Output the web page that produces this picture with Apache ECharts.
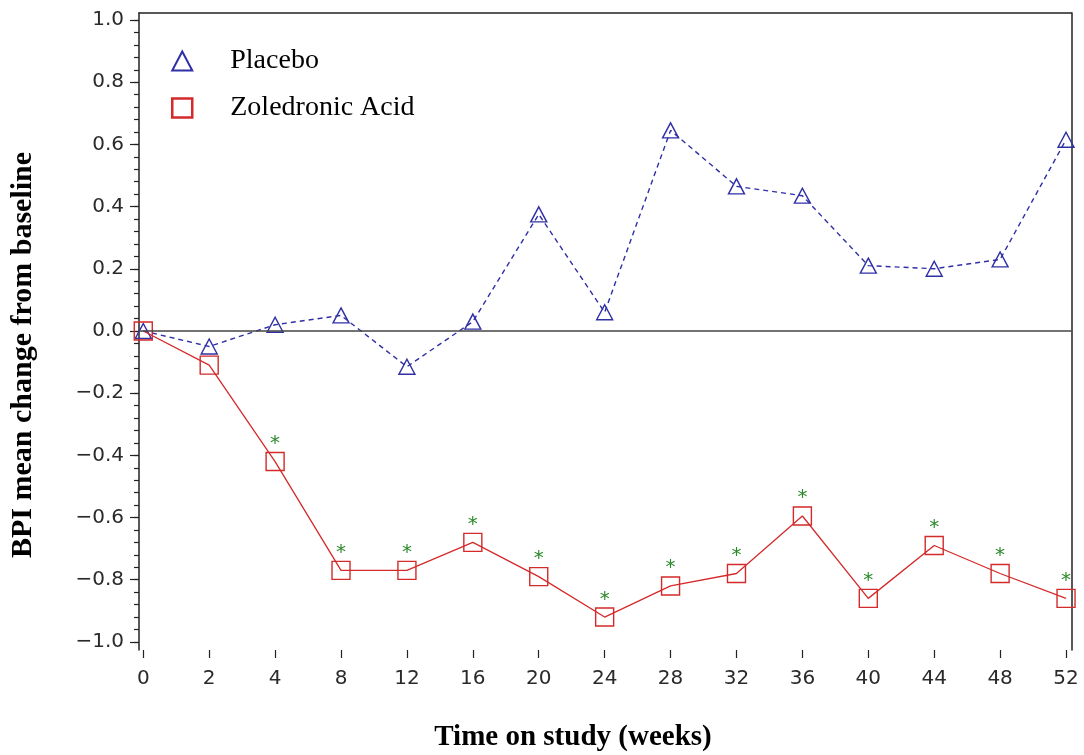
<!DOCTYPE html>
<html>
<head>
<meta charset="utf-8">
<script src="https://cdn.jsdelivr.net/npm/echarts@6/dist/echarts.min.js"></script>
<style>html,body{margin:0;padding:0;background:#fff}#c{width:1084px;height:755px}</style>
</head>
<body>
<div id="c"></div>
<script>
// Data
var weeks = ['0','2','4','8','12','16','20','24','28','32','36','40','44','48','52'];
var placebo = [0.0, -0.05, 0.02, 0.05, -0.115, 0.03, 0.375, 0.06, 0.645, 0.465, 0.435, 0.21, 0.20, 0.23, 0.615];
var zoledronic = [0.0, -0.11, -0.42, -0.77, -0.77, -0.68, -0.79, -0.92, -0.82, -0.78, -0.595, -0.86, -0.69, -0.78, -0.86];
var significant = [false, false, true, true, true, true, true, true, true, true, true, true, true, true, true];
var yTickLabels = [-1.0, -0.8, -0.6, -0.4, -0.2, 0.0, 0.2, 0.4, 0.6, 0.8, 1.0];

var yMinor = [];
for (var k = -25; k <= 25; k++) { yMinor.push(Math.round(k * 4) / 100); }
var xIdx = weeks.map(function (w, i) { return i; });

var blue = '#2f2fa6';
var red = '#d42a2a';
var green = '#2a8a2a';
var labelFont = { fontFamily: 'DejaVu Sans', fontWeight: 'normal', fontSize: 20, color: '#2a2a2a' };

function fmtY(v) {
  var r = Math.round(v * 10) / 10;
  return (r < 0 ? '\u2212' : '') + Math.abs(r).toFixed(1);
}

var chart = echarts.init(document.getElementById('c'), null, { renderer: 'canvas' });
chart.setOption({
  backgroundColor: '#fff',
  animation: false,
  grid: { left: 139, right: 12.5, top: 13, bottom: 105, containLabel: false, outerBoundsMode: 'none' },
  xAxis: [
    {
      type: 'value', position: 'bottom', min: -0.065, max: 14.083,
      axisLine: { show: false, onZero: false },
      axisTick: { show: true, inside: false, length: 8, customValues: xIdx, lineStyle: { color: '#222', width: 1.2 } },
      axisLabel: Object.assign({ customValues: xIdx, margin: 19, formatter: function (v) { return weeks[Math.round(v)]; } }, labelFont),
      splitLine: { show: false }
    },
    {
      type: 'value', position: 'top', min: -0.065, max: 14.083,
      axisLine: { show: true, onZero: false, lineStyle: { color: '#222', width: 1.5 } },
      axisTick: { show: false }, axisLabel: { show: false }, splitLine: { show: false }
    }
  ],
  yAxis: [
    {
      type: 'value', position: 'left', min: -1.026, max: 1.0225,
      axisLine: { show: true, onZero: false, lineStyle: { color: '#222', width: 1.5 } },
      axisTick: { show: true, length: 5, customValues: yMinor, lineStyle: { color: '#222', width: 1.2 } },
      axisLabel: Object.assign({ customValues: yTickLabels, margin: 15, formatter: fmtY }, labelFont),
      splitLine: { show: false }
    },
    {
      type: 'value', position: 'left', min: -1.026, max: 1.0225,
      axisLine: { show: false, onZero: false },
      axisTick: { show: true, length: 9, customValues: yTickLabels, lineStyle: { color: '#222', width: 1.2 } },
      axisLabel: { show: false }, splitLine: { show: false }
    },
    {
      type: 'value', position: 'right', min: -1.026, max: 1.0225,
      axisLine: { show: true, onZero: false, lineStyle: { color: '#222', width: 1.5 } },
      axisTick: { show: false }, axisLabel: { show: false }, splitLine: { show: false }
    }
  ],
  legend: {
    orient: 'vertical', left: 166, top: 41, itemGap: 17,
    itemWidth: 20, itemHeight: 19,
    textStyle: { fontFamily: 'Liberation Serif', fontSize: 28, color: '#000', lineHeight: 30, padding: [0, 0, 0, 33] },
    data: [
      { name: 'Placebo', icon: 'triangle', itemStyle: { color: 'rgba(0,0,0,0)', borderColor: blue, borderWidth: 2 } },
      { name: 'Zoledronic Acid', icon: 'rect', itemStyle: { color: 'rgba(0,0,0,0)', borderColor: red, borderWidth: 2.5 } }
    ]
  },
  graphic: [
    { type: 'text', x: 23, y: 355, rotation: Math.PI / 2,
      style: { text: 'BPI mean change from baseline', fontFamily: 'Liberation Serif', fontWeight: 'bold', fontSize: 30, fill: '#000', textAlign: 'center', textVerticalAlign: 'middle' } },
    { type: 'text', x: 573, y: 738,
      style: { text: 'Time on study (weeks)', fontFamily: 'Liberation Serif', fontWeight: 'bold', fontSize: 29, fill: '#000', textAlign: 'center', textVerticalAlign: 'middle' } }
  ],
  series: [
    {
      name: 'Placebo', type: 'line', xAxisIndex: 0, yAxisIndex: 0,
      data: placebo.map(function (v, i) { return [i, v]; }),
      symbol: 'triangle', symbolSize: [16, 15],
      itemStyle: { color: 'rgba(0,0,0,0)', borderColor: blue, borderWidth: 1.4 },
      lineStyle: { color: blue, width: 1.4, type: [5, 4] },
      z: 3,
      markLine: {
        silent: true, symbol: 'none', label: { show: false },
        lineStyle: { color: '#444', width: 1.5, type: 'solid' },
        data: [{ yAxis: 0 }]
      }
    },
    {
      name: 'Zoledronic Acid', type: 'line', xAxisIndex: 0, yAxisIndex: 0,
      data: zoledronic.map(function (v, i) {
        return { value: [i, v], label: { show: significant[i] } };
      }),
      symbol: 'rect', symbolSize: 18,
      itemStyle: { color: 'rgba(0,0,0,0)', borderColor: red, borderWidth: 1.4 },
      lineStyle: { color: red, width: 1.3, type: 'solid' },
      label: { show: false, position: 'top', distance: -2, formatter: '*', color: green, fontSize: 20, fontFamily: 'DejaVu Sans' },
      z: 4
    }
  ]
});
</script>
</body>
</html>
